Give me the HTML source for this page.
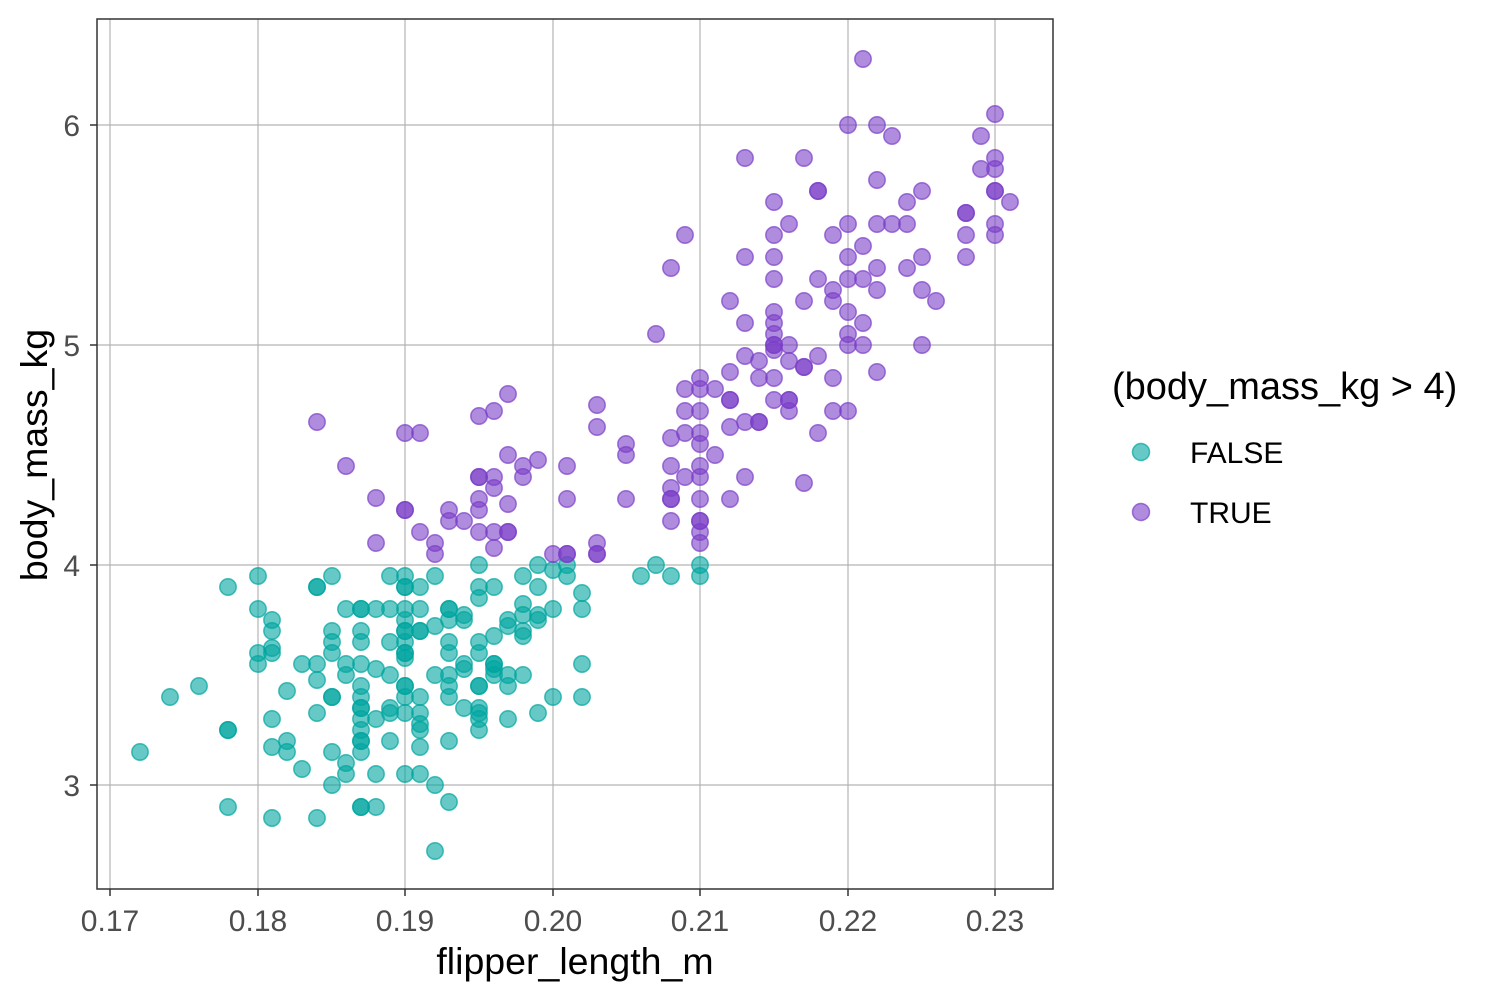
<!DOCTYPE html>
<html><head><meta charset="utf-8"><style>
body{margin:0;background:#fff;}
svg{display:block;font-family:"Liberation Sans",sans-serif;}
</style></head><body>
<svg id="s" width="1500" height="1000" xmlns="http://www.w3.org/2000/svg">
<rect width="1500" height="1000" fill="#fff"/>
<g stroke="#b3b3b3" stroke-width="1.2">
<line x1="110" y1="19" x2="110" y2="889"/><line x1="258" y1="19" x2="258" y2="889"/>
<line x1="405" y1="19" x2="405" y2="889"/><line x1="553" y1="19" x2="553" y2="889"/>
<line x1="700" y1="19" x2="700" y2="889"/><line x1="848" y1="19" x2="848" y2="889"/>
<line x1="995" y1="19" x2="995" y2="889"/>
<line x1="97" y1="125" x2="1053" y2="125"/><line x1="97" y1="345" x2="1053" y2="345"/>
<line x1="97" y1="565" x2="1053" y2="565"/><line x1="97" y1="785" x2="1053" y2="785"/>
</g>
<g id="pts"></g>
<rect x="97" y="19" width="956" height="870" fill="none" stroke="#333" stroke-width="1.5"/>
<g stroke="#333" stroke-width="1.5">
<line x1="110" y1="889" x2="110" y2="896"/><line x1="258" y1="889" x2="258" y2="896"/>
<line x1="405" y1="889" x2="405" y2="896"/><line x1="553" y1="889" x2="553" y2="896"/>
<line x1="700" y1="889" x2="700" y2="896"/><line x1="848" y1="889" x2="848" y2="896"/>
<line x1="995" y1="889" x2="995" y2="896"/>
<line x1="90" y1="125" x2="97" y2="125"/><line x1="90" y1="345" x2="97" y2="345"/>
<line x1="90" y1="565" x2="97" y2="565"/><line x1="90" y1="785" x2="97" y2="785"/>
</g>
<g fill="#4d4d4d" font-size="30" text-anchor="middle">
<text x="110" y="931">0.17</text><text x="258" y="931">0.18</text><text x="405" y="931">0.19</text>
<text x="553" y="931">0.20</text><text x="700" y="931">0.21</text><text x="848" y="931">0.22</text>
<text x="995" y="931">0.23</text>
</g>
<g fill="#4d4d4d" font-size="30" text-anchor="end">
<text x="80" y="136">6</text><text x="80" y="356">5</text><text x="80" y="576">4</text><text x="80" y="796">3</text>
</g>
<text x="575" y="974" font-size="37.5" text-anchor="middle" fill="#000">flipper_length_m</text>
<text transform="translate(47,455) rotate(-90)" font-size="37.5" text-anchor="middle" fill="#000">body_mass_kg</text>
<text x="1112" y="399" font-size="38" fill="#000">(body_mass_kg &gt; 4)</text>
<circle cx="1141" cy="452" r="8.5" fill="rgba(0,165,160,0.6)" stroke="rgba(0,165,160,0.7)" stroke-width="1.5"/>
<circle cx="1141" cy="512" r="8.5" fill="rgba(123,63,200,0.6)" stroke="rgba(123,63,200,0.7)" stroke-width="1.5"/>
<text x="1190" y="463" font-size="30" fill="#000">FALSE</text>
<text x="1190" y="523" font-size="30" fill="#000">TRUE</text>
</svg>
<script>
var T=[140,752,170,697,199,686,228,587,228,730,228,730,228,807,258,576,258,609,258,653,258,664,272,620,272,631,272,648,272,653,272,719,272,747,272,818,287,691,287,741,287,752,302,664,302,769,317,587,317,587,317,664,317,680,317,713,317,818,332,576,332,631,332,642,332,653,332,697,332,697,332,752,332,785,346,609,346,664,346,675,346,763,346,774,361,609,361,609,361,631,361,642,361,664,361,686,361,697,361,708,361,708,361,719,361,730,361,741,361,741,361,752,361,807,361,807,376,609,376,669,376,719,376,774,376,807,390,576,390,609,390,642,390,675,390,708,390,713,390,741,405,576,405,587,405,587,405,609,405,620,405,631,405,631,405,642,405,653,405,653,405,658,405,686,405,686,405,697,405,713,405,774,420,587,420,609,420,631,420,631,420,697,420,713,420,724,420,730,420,747,420,774,435,576,435,626,435,675,435,785,435,851,449,609,449,609,449,620,449,642,449,653,449,675,449,686,449,697,449,741,449,802,464,615,464,620,464,664,464,669,464,708,479,565,479,587,479,642,479,653,479,686,479,686,479,708,479,713,479,719,479,730,479,598,494,587,494,636,494,664,494,664,494,669,494,675,508,620,508,626,508,675,508,686,508,719,523,576,523,604,523,615,523,631,523,636,523,675,538,565,538,587,538,615,538,620,538,713,553,609,553,697,553,570,567,565,567,576,582,593,582,609,582,664,582,697,641,576,656,565,671,576,700,565,700,576];
var P=[317,422,346,466,376,498,376,543,405,433,405,510,405,510,420,433,420,532,435,543,435,554,449,510,449,521,464,521,479,416,479,477,479,477,479,499,479,510,479,532,494,411,494,477,494,488,494,532,494,548,508,394,508,455,508,504,508,532,508,532,523,466,523,477,538,460,553,554,567,554,567,554,567,466,567,499,597,405,597,427,597,543,597,554,597,554,626,444,626,455,626,499,656,334,671,268,671,438,671,466,671,488,671,499,671,499,671,521,685,235,685,389,685,411,685,433,685,477,700,378,700,389,700,411,700,433,700,444,700,466,700,477,700,499,700,521,700,521,700,532,700,543,715,389,715,455,730,301,730,372,730,400,730,400,730,427,730,499,745,158,745,257,745,323,745,356,745,422,745,477,759,361,759,378,759,422,759,422,774,202,774,235,774,257,774,279,774,312,774,323,774,334,774,345,774,345,774,350,774,378,774,400,789,224,789,345,789,361,789,400,789,400,789,411,804,158,804,301,804,367,804,367,804,483,818,191,818,191,818,279,818,356,818,433,833,235,833,290,833,301,833,378,833,411,848,125,848,224,848,257,848,279,848,312,848,334,848,345,848,411,863,59,863,246,863,279,863,323,863,345,877,125,877,180,877,224,877,268,877,290,877,372,892,136,892,224,907,202,907,224,907,268,922,191,922,257,922,290,922,345,936,301,966,213,966,213,966,235,966,257,981,136,981,169,995,114,995,158,995,169,995,191,995,191,995,224,995,235,1010,202];
var g=document.getElementById('pts'),h='';
function add(a,f,s){for(var i=0;i<a.length;i+=2)h+='<circle cx="'+a[i]+'" cy="'+a[i+1]+'" r="8.2" fill="'+f+'" stroke="'+s+'" stroke-width="1.5"/>';}
add(T,'rgba(0,165,160,0.6)','rgba(0,165,160,0.7)');
add(P,'rgba(123,63,200,0.6)','rgba(123,63,200,0.7)');
g.innerHTML=h;
</script>
</body></html>
